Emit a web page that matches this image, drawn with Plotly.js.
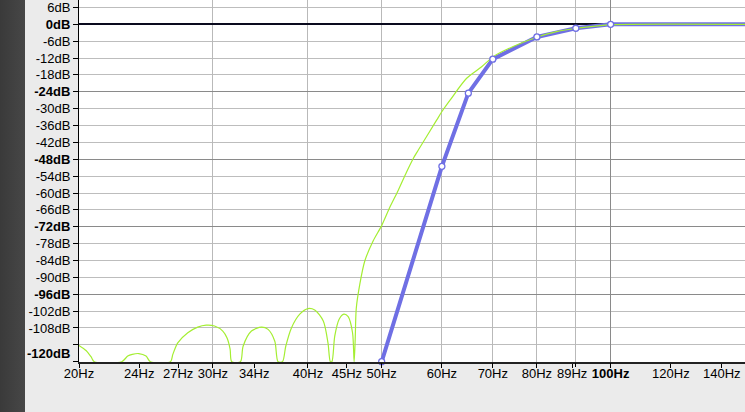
<!DOCTYPE html>
<html>
<head>
<meta charset="utf-8">
<script src="https://cdn.plot.ly/plotly-3.0.1.min.js"></script>
<style>
  html, body { margin:0; padding:0; }
  body { width:745px; height:412px; overflow:hidden;
         background: linear-gradient(to right, #3a3a3a 0px, #474747 25px, #ebebeb 25px, #ebebeb 100%); }
  #chart { width:745px; height:412px; }
</style>
</head>
<body>
<div id="chart"></div>
<script>
// ---- data ----
const greenFreq = [20.0, 20.43, 20.75, 20.95, 22.76, 23.18, 23.5, 23.97, 24.5, 24.83,
  26.38, 26.57, 26.97, 27.8, 28.65, 29.39, 30.15, 30.91, 31.3, 31.6, 31.76,
  32.6, 32.87, 33.71, 34.75, 35.45, 36.18, 36.54,
  37.03, 37.4, 38.06, 39.02, 40.0, 40.83, 41.9, 42.5, 42.81,
  43.0, 43.38, 43.96, 44.59, 45.18, 45.78, 46.0,
  46.15, 46.3, 46.8, 47.52, 48.74, 50.0, 51.25, 52.56, 53.9, 55.0, 55.84, 59.05, 59.95,
  61.5, 64.67, 67.67, 70.09, 74.45, 79.94, 84.9, 90.2, 96.8, 100, 151];
const greenDb = [-114.2, -116.0, -118.3, -120, -120, -118.0, -117.4, -117.1, -118.0, -120,
  -120, -117.4, -113.3, -109.7, -107.7, -107.0, -107.3, -109.1, -111.5, -115.5, -120,
  -120, -114.5, -109.1, -107.7, -108.5, -112.7, -120,
  -120, -114.5, -107.9, -103.1, -101.1, -101.6, -105.5, -113.3, -120,
  -120, -110.9, -104.9, -103.1, -104.0, -109.7, -120,
  -112, -101, -92.4, -84.1, -77.0, -71.6, -65.1, -59.1, -52.6, -47.8, -44.8, -34.1, -31.2,
  -27.0, -19.2, -15.1, -11.5, -7.9, -4.6, -2.6, -1.4, -0.5, -0.1, 0];

const blueFreq = [50, 60, 65, 70, 80, 90, 100, 151];
const blueDb = [-120, -50.5, -24.5, -12.4, -4.5, -1.4, 0, 0];

const pointFreq = [50, 60, 65, 70, 80, 90, 100];
const pointDb = [-120, -50.5, -24.5, -12.4, -4.5, -1.4, 0];

const xTickVals = [20, 24, 27, 30, 34, 40, 45, 50, 60, 70, 80, 89, 100, 120, 140];
const xTickText = ['20Hz', '24Hz', '27Hz', '30Hz', '34Hz', '40Hz', '45Hz', '50Hz', '60Hz',
  '70Hz', '80Hz', '89Hz', '<b>100Hz</b>', '120Hz', '140Hz'];
const xGridVals = [30, 40, 50, 60, 70, 80, 90];
const xGridDark = [100];

const yTickVals = [6, 0, -6, -12, -18, -24, -30, -36, -42, -48, -54, -60, -66, -72, -78,
  -84, -90, -96, -102, -108, -114, -120];
const yTickText = ['6dB', '<b>0dB</b>', '-6dB', '-12dB', '-18dB', '<b>-24dB</b>', '-30dB',
  '-36dB', '-42dB', '<b>-48dB</b>', '-54dB', '-60dB', '-66dB', '<b>-72dB</b>', '-78dB',
  '-84dB', '-90dB', '<b>-96dB</b>', '-102dB', '-108dB', '', ''];
const yGridDark = [-24, -48, -72, -96];
const yBottomVal = [-120];
const yBottomText = ['<b>-120dB</b>'];

// ---- chart ----
const xRange = [Math.log10(20), Math.log10(150.2)];
const yRange = [-120.1, 8.64];
const blue = '#6f6fe4';
const green = '#a4ee32';

const traces = [
  { x: blueFreq, y: blueDb, xaxis: 'x', yaxis: 'y', type: 'scatter', mode: 'lines',
    line: { color: blue, width: 4 }, hoverinfo: 'skip' },
  { x: greenFreq, y: greenDb, xaxis: 'x2', yaxis: 'y2', type: 'scatter', mode: 'lines',
    line: { color: green, width: 1.2, shape: 'spline', smoothing: 0.8 }, hoverinfo: 'skip' },
  { x: pointFreq, y: pointDb, xaxis: 'x3', yaxis: 'y3', type: 'scatter', mode: 'markers',
    marker: { color: '#ffffff', size: 6, line: { color: blue, width: 1.3 } }, cliponaxis: false,
    hoverinfo: 'skip' }
];

const baseX = { type: 'log', range: xRange, zeroline: false, fixedrange: true };
const baseY = { range: yRange, zeroline: false, fixedrange: true };

const layout = {
  width: 745, height: 412,
  margin: { l: 79, r: 0, t: 0, b: 50, pad: 0 },
  paper_bgcolor: 'rgba(0,0,0,0)',
  plot_bgcolor: '#ffffff',
  showlegend: false,
  font: { family: 'Liberation Sans, Arial, sans-serif', size: 13, color: '#000' },
  xaxis: Object.assign({}, baseX, {
    tickmode: 'array', tickvals: xTickVals, ticktext: xTickText,
    showgrid: false, ticks: 'outside', ticklen: 4, tickcolor: '#000',
    ticklabelstandoff: -6, ticklabeloverflow: 'allow',
    showline: true, linecolor: '#222', linewidth: 2
  }),
  xaxis2: Object.assign({}, baseX, {
    overlaying: 'x', anchor: 'y', side: 'bottom',
    tickmode: 'array', tickvals: xGridVals, showticklabels: false,
    showgrid: true, gridcolor: '#b9b9b9', gridwidth: 1,
    ticks: 'outside', ticklen: 4, tickcolor: '#000', showline: false
  }),
  xaxis3: Object.assign({}, baseX, {
    overlaying: 'x', anchor: 'y', side: 'bottom',
    tickmode: 'array', tickvals: xGridDark, showticklabels: false,
    showgrid: true, gridcolor: '#8a8a8a', gridwidth: 1,
    ticks: 'outside', ticklen: 4, tickcolor: '#000', showline: false
  }),
  yaxis: Object.assign({}, baseY, {
    tickmode: 'array', tickvals: yTickVals, ticktext: yTickText,
    showgrid: true, gridcolor: '#bdbdbd', gridwidth: 1,
    zeroline: true, zerolinecolor: '#0a0a1e', zerolinewidth: 2,
    ticks: 'outside', ticklen: 5, tickcolor: '#000', ticklabeloverflow: 'allow',
    showline: true, linecolor: '#000', linewidth: 1
  }),
  yaxis2: Object.assign({}, baseY, {
    overlaying: 'y', anchor: 'x', side: 'left',
    tickmode: 'array', tickvals: yGridDark, showticklabels: false,
    showgrid: true, gridcolor: '#8a8a8a', gridwidth: 1, ticks: ''
  }),
  yaxis3: Object.assign({}, baseY, {
    overlaying: 'y', anchor: 'x', side: 'left',
    tickmode: 'array', tickvals: yBottomVal, ticktext: yBottomText,
    showgrid: false, ticks: 'outside', ticklen: 5, tickcolor: '#000',
    ticklabelshift: -8, ticklabeloverflow: 'allow'
  })
};

Plotly.newPlot('chart', traces, layout, { displayModeBar: false, staticPlot: true });
</script>
</body>
</html>
